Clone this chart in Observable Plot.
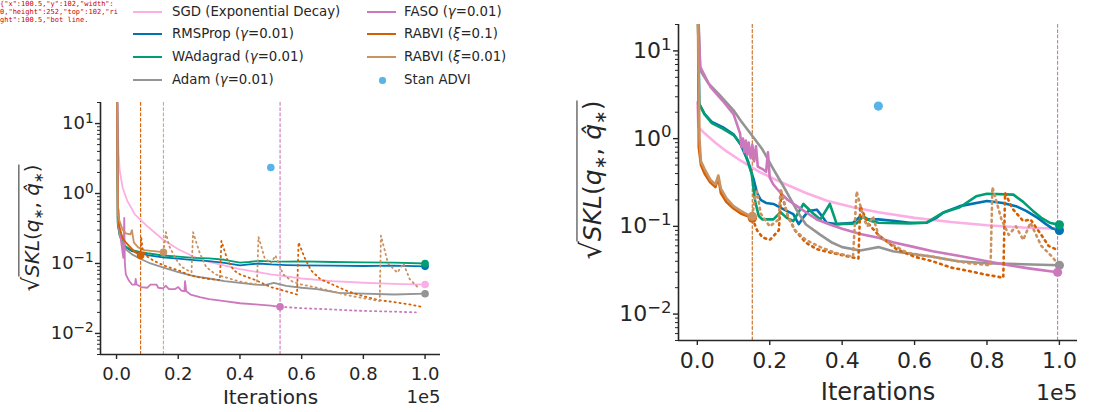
<!DOCTYPE html>
<html><head><meta charset="utf-8">
<script src="https://cdn.jsdelivr.net/npm/d3@7"></script>
<script src="https://cdn.jsdelivr.net/npm/@observablehq/plot@0.6"></script>
<style>
body{margin:0;background:#fff;font-family:"DejaVu Sans",sans-serif;color:#262626}
#wrap{position:relative;width:1116px;height:412px;overflow:hidden;background:#fff}
.lg-item{position:absolute;font-size:13.3px;line-height:16px;white-space:nowrap;transform:translateY(-50%)}
.lg-handle{position:absolute;height:2px;width:29px;transform:translateY(-50%)}
.lg-ylab{position:absolute;transform:translate(-50%,-50%) rotate(-90deg);white-space:nowrap;color:#262626}
.lg-ylab .lg-rad{border-top:1.3px solid #262626;padding-top:1px}
.lg-ylab sub{font-size:0.65em;vertical-align:-0.25em}
</style></head><body><div id="wrap"></div>
<script>
// ---------- data (iterations in units of 1e5, value of sqrt(SKL)) ----------
const methods = ["SGD (Exponential Decay)", "RMSProp (γ=0.01)", "WAdagrad (γ=0.01)", "Adam (γ=0.01)",
                 "FASO (γ=0.01)", "RABVI (ξ=0.1)", "RABVI (ξ=0.01)", "Stan ADVI"];
const colors = ["#fbafe4", "#0173b2", "#029e73", "#949494", "#cc78bc", "#d55e00", "#ca9161", "#56b4e9"];
const xTicks = [0, 0.2, 0.4, 0.6, 0.8, 1.0];
const yMajor = [0.01, 0.1, 1, 10];
const xDomain = [-0.052, 1.05];
const yDomain = [0.005, 20];
const stanADVI = [[0.5, 2.35]];

// Left panel
const leftSGD = [[0.003,25],[0.006,4],[0.01,2.2],[0.02,1.2],[0.035,0.78],[0.06,0.5],[0.1,0.34],[0.15,0.22],[0.2,0.16],[0.25,0.125],[0.3,0.105],[0.4,0.083],[0.5,0.07],[0.6,0.061],[0.7,0.056],[0.8,0.053],[0.9,0.051],[1.0,0.05]];
const leftRMSProp = [[0.002,25],[0.004,0.38],[0.01,0.26],[0.02,0.2],[0.03,0.17],[0.05,0.15],[0.08,0.14],[0.1,0.132],[0.15,0.122],[0.2,0.117],[0.25,0.112],[0.3,0.108],[0.35,0.102],[0.4,0.094],[0.43,0.097],[0.46,0.1],[0.5,0.097],[0.55,0.095],[0.6,0.094],[0.7,0.093],[0.8,0.092],[0.9,0.093],[1.0,0.091]];
const leftWAdagrad = [[0.002,25],[0.004,0.36],[0.01,0.25],[0.02,0.2],[0.03,0.175],[0.05,0.155],[0.08,0.145],[0.1,0.14],[0.15,0.13],[0.2,0.125],[0.25,0.12],[0.3,0.118],[0.35,0.113],[0.4,0.103],[0.43,0.105],[0.46,0.109],[0.5,0.107],[0.55,0.106],[0.6,0.107],[0.7,0.105],[0.8,0.104],[0.9,0.103],[1.0,0.1]];
const leftAdam = [[0.002,25],[0.004,0.4],[0.01,0.26],[0.02,0.19],[0.03,0.16],[0.05,0.135],[0.08,0.115],[0.11,0.1],[0.15,0.088],[0.2,0.075],[0.25,0.066],[0.3,0.061],[0.35,0.056],[0.4,0.053],[0.45,0.05],[0.48,0.049],[0.51,0.053],[0.55,0.048],[0.6,0.045],[0.65,0.043],[0.72,0.038],[0.8,0.037],[0.9,0.036],[1.0,0.037]];
const leftFASO = [[0.002,25],[0.005,0.6],[0.01,0.3],[0.018,0.16],[0.022,0.12],[0.025,0.45],[0.027,0.1],[0.03,0.07],[0.04,0.057],[0.05,0.05],[0.06,0.05],[0.062,0.06],[0.065,0.05],[0.08,0.046],[0.1,0.045],[0.11,0.05],[0.13,0.05],[0.135,0.045],[0.15,0.044],[0.16,0.048],[0.17,0.043],[0.19,0.043],[0.2,0.046],[0.21,0.041],[0.22,0.04],[0.222,0.056],[0.226,0.04],[0.24,0.036],[0.27,0.033],[0.3,0.031],[0.35,0.029],[0.4,0.027],[0.45,0.026],[0.5,0.025],[0.53,0.024]];
const leftFASOcont = [[0.53,0.024],[0.6,0.023],[0.7,0.022],[0.8,0.021],[0.9,0.0205],[0.97,0.02]];
const leftRABVI1 = [[0.002,25],[0.004,0.45],[0.006,0.6],[0.008,0.35],[0.015,0.27],[0.02,0.23],[0.03,0.2],[0.045,0.17],[0.06,0.145],[0.078,0.13]];
const leftRABVI1cont = [[0.078,0.13],[0.08,0.24],[0.085,0.15],[0.1,0.125],[0.12,0.11],[0.15,0.095],[0.18,0.085],[0.2,0.08],[0.23,0.07],[0.27,0.063],[0.3,0.06],[0.335,0.058],[0.34,0.21],[0.36,0.11],[0.38,0.08],[0.4,0.07],[0.45,0.058],[0.5,0.046],[0.55,0.04],[0.585,0.036],[0.59,0.2],[0.61,0.12],[0.63,0.08],[0.66,0.06],[0.7,0.05],[0.75,0.04],[0.8,0.034],[0.85,0.03],[0.9,0.028],[0.95,0.026],[0.99,0.024]];
const leftRABVI01 = [[0.002,25],[0.004,0.5],[0.01,0.4],[0.02,0.3],[0.03,0.27],[0.045,0.26],[0.05,0.3],[0.056,0.2],[0.07,0.17],[0.09,0.155],[0.12,0.15],[0.152,0.145]];
const leftRABVI01cont = [[0.152,0.145],[0.16,0.28],[0.17,0.18],[0.19,0.12],[0.21,0.09],[0.23,0.08],[0.243,0.075],[0.248,0.28],[0.27,0.14],[0.29,0.09],[0.32,0.07],[0.36,0.062],[0.4,0.055],[0.455,0.05],[0.46,0.24],[0.48,0.12],[0.5,0.1],[0.515,0.13],[0.54,0.07],[0.57,0.055],[0.6,0.05],[0.65,0.045],[0.7,0.04],[0.75,0.035],[0.8,0.032],[0.853,0.029],[0.857,0.25],[0.88,0.1],[0.91,0.074],[0.93,0.1],[0.95,0.06],[0.98,0.044]];
const leftConverged = [0.53, 0.078, 0.152]; // FASO, RABVI ξ=0.1, RABVI ξ=0.01

// Right panel
const rightSGD = [[0.0,2.6],[0.003,1.35],[0.02,1.15],[0.05,0.9],[0.08,0.72],[0.12,0.56],[0.17,0.42],[0.23,0.32],[0.3,0.24],[0.36,0.195],[0.43,0.165],[0.5,0.145],[0.6,0.125],[0.7,0.112],[0.8,0.103],[0.9,0.097],[1.0,0.094]];
const rightRMSProp = [[0.002,25],[0.005,2.5],[0.02,1.9],[0.04,1.55],[0.07,1.35],[0.1,1.12],[0.12,0.85],[0.14,0.55],[0.155,0.35],[0.165,0.24],[0.175,0.2],[0.19,0.185],[0.21,0.18],[0.24,0.155],[0.265,0.138],[0.28,0.106],[0.295,0.13],[0.307,0.15],[0.33,0.155],[0.345,0.13],[0.357,0.11],[0.385,0.106],[0.43,0.11],[0.45,0.13],[0.47,0.12],[0.5,0.12],[0.54,0.116],[0.587,0.11],[0.633,0.11],[0.66,0.125],[0.68,0.144],[0.725,0.17],[0.8,0.195],[0.844,0.185],[0.88,0.17],[0.908,0.15],[0.94,0.125],[0.963,0.106],[0.98,0.095],[1.0,0.09]];
const rightWAdagrad = [[0.002,25],[0.005,2.5],[0.02,1.9],[0.04,1.5],[0.07,1.3],[0.1,1.1],[0.127,0.8],[0.15,0.4],[0.16,0.19],[0.17,0.13],[0.18,0.12],[0.21,0.12],[0.23,0.145],[0.247,0.125],[0.265,0.115],[0.293,0.18],[0.32,0.14],[0.34,0.12],[0.366,0.18],[0.385,0.106],[0.44,0.108],[0.458,0.13],[0.48,0.115],[0.5,0.11],[0.587,0.108],[0.633,0.11],[0.68,0.144],[0.725,0.165],[0.77,0.22],[0.8,0.235],[0.873,0.23],[0.9,0.19],[0.927,0.15],[0.95,0.125],[0.973,0.11],[1.0,0.104]];
const rightAdam = [[0.003,25],[0.008,6],[0.03,4.3],[0.06,3.2],[0.1,2.1],[0.12,1.6],[0.15,1.1],[0.18,0.75],[0.21,0.45],[0.235,0.3],[0.256,0.21],[0.28,0.14],[0.3,0.105],[0.34,0.08],[0.37,0.066],[0.4,0.058],[0.45,0.053],[0.48,0.056],[0.5,0.058],[0.54,0.052],[0.6,0.048],[0.65,0.045],[0.72,0.04],[0.8,0.038],[0.9,0.037],[1.0,0.036]];
const rightFASO = [[0.002,25],[0.008,6.6],[0.036,3.9],[0.07,2.7],[0.1,1.9],[0.118,1.15],[0.122,0.8],[0.126,1.0],[0.13,0.7],[0.134,0.95],[0.138,0.65],[0.142,0.9],[0.147,0.6],[0.152,0.85],[0.157,0.55],[0.162,0.82],[0.167,0.48],[0.18,0.45],[0.19,0.42],[0.195,0.7],[0.2,0.36],[0.21,0.3],[0.23,0.24],[0.25,0.2],[0.275,0.17],[0.3,0.145],[0.33,0.12],[0.366,0.105],[0.4,0.094],[0.45,0.082],[0.5,0.074],[0.54,0.066],[0.6,0.058],[0.65,0.052],[0.725,0.046],[0.8,0.04],[0.86,0.036],[0.92,0.033],[0.995,0.03]];
const rightRABVI1 = [[0.002,25],[0.004,0.8],[0.01,0.5],[0.02,0.4],[0.035,0.32],[0.05,0.28],[0.058,0.36],[0.065,0.24],[0.08,0.19],[0.1,0.16],[0.12,0.14],[0.14,0.13],[0.152,0.124]];
const rightRABVI1cont = [[0.152,0.124],[0.165,0.09],[0.18,0.075],[0.2,0.07],[0.225,0.09],[0.232,0.24],[0.25,0.13],[0.27,0.09],[0.3,0.065],[0.33,0.055],[0.37,0.05],[0.42,0.045],[0.445,0.043],[0.45,0.17],[0.47,0.11],[0.5,0.08],[0.55,0.055],[0.6,0.045],[0.65,0.04],[0.7,0.034],[0.75,0.031],[0.8,0.028],[0.845,0.026],[0.85,0.24],[0.87,0.16],[0.9,0.115],[0.92,0.12],[0.95,0.08],[0.97,0.06],[0.99,0.055]];
const rightRABVI01 = [[0.002,25],[0.006,1.0],[0.01,0.55],[0.02,0.45],[0.036,0.34],[0.05,0.3],[0.058,0.38],[0.065,0.27],[0.08,0.21],[0.1,0.17],[0.12,0.15],[0.14,0.135],[0.152,0.13]];
const rightRABVI01cont = [[0.152,0.13],[0.158,0.2],[0.165,0.25],[0.175,0.14],[0.2,0.1],[0.225,0.12],[0.23,0.27],[0.25,0.13],[0.27,0.09],[0.3,0.07],[0.34,0.058],[0.38,0.05],[0.43,0.045],[0.44,0.25],[0.46,0.12],[0.47,0.1],[0.485,0.13],[0.5,0.08],[0.52,0.068],[0.58,0.05],[0.65,0.045],[0.75,0.038],[0.81,0.036],[0.815,0.28],[0.84,0.12],[0.86,0.08],[0.88,0.1],[0.9,0.07],[0.92,0.11],[0.95,0.06],[0.98,0.045],[0.99,0.04]];
const rightConverged = [0.995, 0.152, 0.152];

// ---------- helpers ----------
const rows = (pairs) => pairs.map(([t, v]) => ({t, v}));
const yMinor = [0.001, 0.01, 0.1, 1, 10].flatMap(d => [2,3,4,5,6,7,8,9].map(k => +(k*d).toPrecision(3)))
  .filter(v => v >= yDomain[0] && v <= yDomain[1]);
const INK = "#262626";

function place(svg, S) {
  svg.style.position = "absolute";
  svg.style.left = S.left + "px";
  svg.style.top = S.top + "px";
  return svg;
}
function frameOpts(S) {
  return {width: S.width, height: S.height, marginLeft: S.ml, marginRight: S.mr, marginTop: S.mt, marginBottom: S.mb,
    style: {fontFamily: "DejaVu Sans", color: INK, background: "transparent", overflow: "visible"}};
}

function dataPanel(P, S) {
  const solids = [P.sgd, P.rms, P.wada, P.adam, P.faso, P.r1, P.r01];
  const conts = [[P.fasoCont, 4], [P.r1Cont, 5], [P.r01Cont, 6]];
  const marks = [];
  P.conv.forEach((t, i) => {
    const ci = [4, 5, 6][i];
    marks.push(Plot.ruleX([t], {stroke: colors[ci], strokeWidth: 1.1, strokeDasharray: "3.7,1.6", strokeOpacity: ci === 6 ? 0.8 : 1}));
  });
  solids.forEach((s, i) => {
    marks.push(Plot.line(rows(s), {x: "t", y: "v", stroke: colors[i], strokeWidth: S.lw, clip: true}));
  });
  conts.forEach(([s, ci]) => {
    if (s) marks.push(Plot.line(rows(s), {x: "t", y: "v", stroke: colors[ci], strokeWidth: S.lw, strokeDasharray: S.dots, clip: true}));
  });
  solids.forEach((s, i) => {
    marks.push(Plot.dot(rows(s.slice(-1)), {x: "t", y: "v", fill: colors[i], r: S.r}));
  });
  marks.push(Plot.dot(rows(stanADVI), {x: "t", y: "v", fill: colors[7], r: S.r}));
  return place(Plot.plot({...frameOpts(S),
    x: {domain: xDomain, axis: null}, y: {type: "log", domain: yDomain, axis: null}, marks}), S);
}

function axesPanel(S) {
  const svg = Plot.plot({...frameOpts(S),
    x: {domain: xDomain}, y: {type: "log", domain: yDomain},
    marks: [
      Plot.ruleX([xDomain[0]], {stroke: INK, strokeWidth: 1.6}),
      Plot.ruleY([yDomain[0]], {stroke: INK, strokeWidth: 1.6}),
      Plot.axisX({ticks: xTicks, tickFormat: d3.format(".1f"), tickSize: 5, tickPadding: S.xpad, label: null, fontSize: S.tickFont, strokeWidth: 1.4}),
      Plot.axisY({ticks: yMajor, tickFormat: d => "10^" + Math.round(Math.log10(d)), tickSize: 5, tickPadding: 2, label: null, fontSize: S.tickFont, strokeWidth: 1.4}),
      Plot.axisY({ticks: yMinor, tickFormat: () => "", tickSize: 3, label: null, strokeWidth: 1}),
      Plot.text(["Iterations"], {frameAnchor: "bottom", dy: S.labDy, lineAnchor: "middle", fontSize: S.labFont, fill: INK}),
      Plot.text(["1e5"], {frameAnchor: "bottom-right", dy: S.labDy, lineAnchor: "middle", textAnchor: "end", fontSize: S.tickFont, fill: INK})
    ]});
  d3.select(svg).selectAll('g[aria-label="y-axis tick label"] text').each(function() {
    const s = this.textContent;
    if (!s.includes("^")) return;
    const [b, e] = s.split("^");
    const t = d3.select(this); t.text("");
    t.append("tspan").text(b);
    t.append("tspan").attr("dy", "-0.5em").attr("font-size", "0.75em").text(e.replace("-", "−"));
  });
  return place(svg, S);
}

const wrap = document.getElementById("wrap");
const LS = {width: 460, height: 312, left: 0, top: 100, ml: 100, mr: 20, mt: 2, mb: 58, lw: 1.8, r: 3.8, dots: "1.3,3.7",
   tickFont: 18, labFont: 20, xpad: 8, labDy: 43};
const RS = {width: 556, height: 412, left: 560, top: 0, ml: 118, mr: 39, mt: 24, mb: 72, lw: 2.6, r: 4.6, dots: "1.8,4.2",
   tickFont: 22, labFont: 24, xpad: 7, labDy: 52};

wrap.appendChild(dataPanel(
  {sgd: leftSGD, rms: leftRMSProp, wada: leftWAdagrad, adam: leftAdam, faso: leftFASO, r1: leftRABVI1, r01: leftRABVI01,
   fasoCont: leftFASOcont, r1Cont: leftRABVI1cont, r01Cont: leftRABVI01cont, conv: leftConverged}, LS));
wrap.appendChild(dataPanel(
  {sgd: rightSGD, rms: rightRMSProp, wada: rightWAdagrad, adam: rightAdam, faso: rightFASO, r1: rightRABVI1, r01: rightRABVI01,
   fasoCont: null, r1Cont: rightRABVI1cont, r01Cont: rightRABVI01cont, conv: rightConverged}, RS));
const axL = axesPanel(LS);
wrap.appendChild(axL);
wrap.appendChild(axesPanel(RS));

function ylab(x, y, size) {
  const d = document.createElement("div");
  d.className = "lg-ylab";
  d.style.left = x + "px"; d.style.top = y + "px"; d.style.fontSize = size + "px";
  d.innerHTML = '<span style="font-size:1.15em">√</span><span class="lg-rad"><i>SKL</i>(<i>q</i><sub>∗</sub>, <i>q̂</i><sub>∗</sub>)</span>';
  wrap.appendChild(d);
}
ylab(32, 228, 20);
ylab(592, 180, 25);

// legend
const legendPos = [[0,12],[0,34],[0,57],[0,80],[1,12],[1,34],[1,57],[1,80]];
const colX = [[133, 172], [367, 404]];
methods.forEach((m, i) => {
  const [c, y] = legendPos[i];
  const [hx, tx] = colX[c];
  if (m === "Stan ADVI") {
    const dot = document.createElement("div");
    dot.style.cssText = `position:absolute;left:${hx + 12}px;top:${y - 3}px;width:6.5px;height:6.5px;border-radius:50%;background:${colors[i]}`;
    wrap.appendChild(dot);
  } else {
    const h = document.createElement("div");
    h.className = "lg-handle";
    h.style.left = hx + "px"; h.style.top = y + "px"; h.style.background = colors[i];
    wrap.appendChild(h);
  }
  const t = document.createElement("div");
  t.className = "lg-item";
  t.style.left = tx + "px"; t.style.top = y + "px";
  t.innerHTML = m.replace(/([γξ])/g, "<i>$1</i>");
  wrap.appendChild(t);
});

// tiny diagnostic (top-left corner)
const rl = axL.querySelector('g[aria-label="rule"] line');
const el = document.elementFromPoint(100, 250);
const dg = document.createElement("div");
dg.style.cssText = "position:absolute;left:0;top:0;font:7px monospace;color:#c00;width:120px;word-break:break-all";
dg.textContent = (rl ? JSON.stringify(rl.getBoundingClientRect()).slice(0, 70) : "norule") + " " + (el ? el.tagName + "." + (el.getAttribute("class") || "") : "none");
wrap.appendChild(dg);
</script></body></html>
